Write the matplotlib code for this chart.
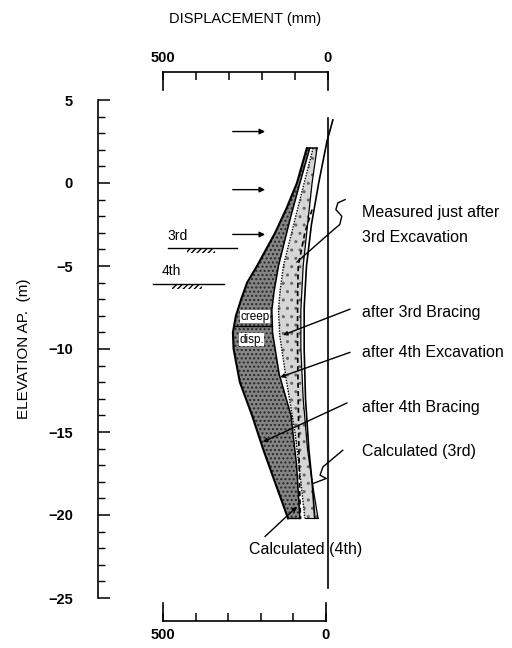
import numpy as np
import matplotlib
matplotlib.use('Agg')
import matplotlib.pyplot as plt
from matplotlib.patches import Rectangle

plt.rcParams['font.family'] = ['Liberation Sans', 'DejaVu Sans']

# wall displacement (mm) vs elevation AP (m)
elev_4b = [2.1, 0, -1.5, -3, -5, -6, -7, -8, -9, -10, -12, -14, -16, -18, -20.2]
disp_4b = [64, 94, 125, 160, 215, 245, 263, 279, 288, 286, 267, 230, 197, 161, 121]  # after 4th bracing

elev_4e = [2.1, 0, -2.2, -5, -6.5, -7.65, -9, -11.5, -14, -17, -20.2]
disp_4e = [55, 85, 115, 150, 163, 170, 168, 148, 112, 95, 85]  # after 4th excavation

elev_3b = [2.1, 0, -2.2, -5, -6.5, -7.65, -9.2, -12, -15, -18, -20.2]
disp_3b = [45, 72, 100, 135, 145, 150, 146, 125, 100, 82, 70]  # after 3rd bracing

elev_3e = [2.1, 0, -2.2, -5, -7.65, -10, -13, -16, -18, -20.2]
disp_3e = [33, 48, 60, 75, 82, 82, 75, 62, 48, 30]  # just after 3rd excavation

elev_c3 = [3.8, 2.5, 0, -2.5, -5, -7.5, -10, -13, -16, -18, -20.2]
disp_c3 = [-15, 3, 28, 50, 65, 72, 72, 68, 58, 48, 40]  # calculated (3rd)

elev_c4 = [-1.6, -3, -5, -7, -10, -13, -16, -19, -20.2]
disp_c4 = [48, 70, 90, 92, 92, 90, 88, 85, 83]  # calculated (4th)

strut_elev = [3.1, -0.4, -3.1]
exc_stage = ['3rd', '4th']
exc_elev = [-3.9, -6.1]

fig = plt.figure(figsize=(5.12, 6.48), dpi=100)
ax = fig.add_axes([98/512, 1-598/648, 414/512, 498/648])
ax.set_xlim(697, -558)
ax.set_ylim(-25, 5)

for s in ['top', 'right', 'bottom']:
    ax.spines[s].set_visible(False)
ax.spines['left'].set_linewidth(1.2)
ax.set_xticks([])
ax.set_yticks(range(-25, 6, 5))
ax.set_yticks(range(-25, 6), minor=True)
ax.tick_params(axis='y', which='major', direction='in', length=8.5, width=1.1, pad=18, labelsize=10.5)
ax.tick_params(axis='y', which='minor', direction='in', length=5, width=1.0)
for t in ax.get_yticklabels():
    t.set_fontweight('bold')
ax.set_ylabel('ELEVATION AP.  (m)', fontsize=11, labelpad=12)

# shaded bands
ax.fill(np.r_[disp_3b, disp_3e[::-1]], np.r_[elev_3b, elev_3e[::-1]],
        facecolor='0.84', edgecolor='0.4', hatch='..', linewidth=0)
ax.fill(np.r_[disp_4b, disp_4e[::-1]], np.r_[elev_4b, elev_4e[::-1]],
        facecolor='0.52', edgecolor='0.15', hatch='....', linewidth=0)

ax.plot(disp_4b, elev_4b, color='black', lw=1.5)
ax.plot(disp_4e, elev_4e, color='black', lw=1.1)
ax.plot(disp_3b, elev_3b, color='black', lw=1.0, ls=(0, (1, 1)))
ax.plot(disp_3e, elev_3e, color='black', lw=0.9)
ax.plot(disp_c3, elev_c3, color='black', lw=1.2)
ax.plot(disp_c4, elev_c4, color='black', lw=1.2, ls=(0, (3, 2)))
ax.plot([disp_4b[0], disp_3e[0]], [elev_4b[0], elev_3e[0]], color='black', lw=1.1)
ax.plot([disp_4b[-1], disp_4e[-1]], [elev_4b[-1], elev_4e[-1]], color='black', lw=1.0)
ax.plot([disp_3b[-1], disp_3e[-1]], [elev_3b[-1], elev_3e[-1]], color='black', lw=0.8)

# creep / disp split
ys = -8.6
xa = np.interp(ys, elev_4b[::-1], disp_4b[::-1])
xb = np.interp(ys, elev_4e[::-1], disp_4e[::-1])
ax.plot([xa, xb], [ys, ys], color='black', lw=1.0)
ax.text(222, -8.05, 'creep', fontsize=8.5, ha='center', va='center',
        bbox=dict(facecolor='white', edgecolor='none', pad=0.3))
ax.text(232, -9.45, 'disp.', fontsize=8.5, ha='center', va='center',
        bbox=dict(facecolor='white', edgecolor='none', pad=0.3))

# wall line (zero displacement)
ax.plot([0, 0], [3.9, -24.4], color='black', lw=1.2)

# strut arrows
for e in strut_elev:
    ax.annotate('', xy=(182, e), xytext=(297, e),
                arrowprops=dict(arrowstyle='-|>', color='black', lw=1.0,
                                mutation_scale=8))

# excavation levels
lab_pos = [(457, -3.2), (475, -5.3)]
line_x = [(485, 276), (530, 315)]
hatch_x = [(427, 342), (473, 382)]
for lab, e, lp, lx, hx in zip(exc_stage, exc_elev, lab_pos, line_x, hatch_x):
    ax.plot(lx, [e, e], color='black', lw=1.0)
    ax.text(lp[0], lp[1], lab, fontsize=10, ha='center', va='center')
    ax.add_patch(Rectangle((hx[1], e - 0.3), hx[0] - hx[1], 0.3, hatch='//////',
                           facecolor='none', edgecolor='black', linewidth=0))

# labels and leaders
tx = -103
labels = ['Measured just after', '3rd Excavation', 'after 3rd Bracing',
          'after 4th Excavation', 'after 4th Bracing', 'Calculated (3rd)']
label_elev = [-1.75, -3.3, -7.8, -10.2, -13.5, -16.2]
for lab, e in zip(labels, label_elev):
    ax.text(tx, e, lab, fontsize=11.5, ha='left', va='center')
ax.text(240, -22.1, 'Calculated (4th)', fontsize=11.5, ha='left', va='center')

sq_d = [-52, -30, -24, -42, -36, -15, 94]
sq_e = [-1.0, -1.2, -1.6, -2.0, -2.5, -2.85, -4.76]
ax.plot(sq_d, sq_e, color='black', lw=1.0)

leaders = [((-67, -7.6), (136, -9.16)), ((-67, -10.2), (145, -11.7)),
           ((-58, -13.25), (197, -15.6)), ((191, -21.3), (94, -19.5))]
for (x0, y0), (x1, y1) in leaders:
    ax.annotate('', xy=(x1, y1), xytext=(x0, y0),
                arrowprops=dict(arrowstyle='-|>', color='black', lw=1.0,
                                mutation_scale=6, shrinkA=0, shrinkB=0))
c3_d = [-45, 15, 24, 5, 45]
c3_e = [-16.1, -17.1, -17.6, -17.8, -18.1]
ax.plot(c3_d, c3_e, color='black', lw=1.0)

# displacement scale bars
ticks = [500, 400, 300, 200, 100, 0]
ticklab = ['500', '', '', '', '', '0']

axt = fig.add_axes([163/512, 1-90/648, 165/512, 18/648])
axt.set_xlim(500, 0)
axt.set_yticks([])
axt.spines['bottom'].set_visible(False)
axt.patch.set_alpha(0)
axt.xaxis.tick_top()
axt.set_xticks(ticks)
axt.set_xticklabels(ticklab, fontweight='bold', fontsize=10.5)
axt.tick_params(axis='x', direction='in', length=6, width=1.1, pad=5)
axt.xaxis.set_label_position('top')
axt.set_xlabel('DISPLACEMENT (mm)', fontsize=10.5, labelpad=20)
for s in axt.spines.values():
    s.set_linewidth(1.2)

axb = fig.add_axes([163/512, 1-621/648, 163/512, 18/648])
axb.set_xlim(500, 0)
axb.set_yticks([])
axb.spines['top'].set_visible(False)
axb.patch.set_alpha(0)
axb.set_xticks(ticks)
axb.set_xticklabels(ticklab, fontweight='bold', fontsize=10.5)
axb.tick_params(axis='x', direction='in', length=6, width=1.1, pad=5)
for s in axb.spines.values():
    s.set_linewidth(1.2)

fig.savefig('out.png', dpi=100)
